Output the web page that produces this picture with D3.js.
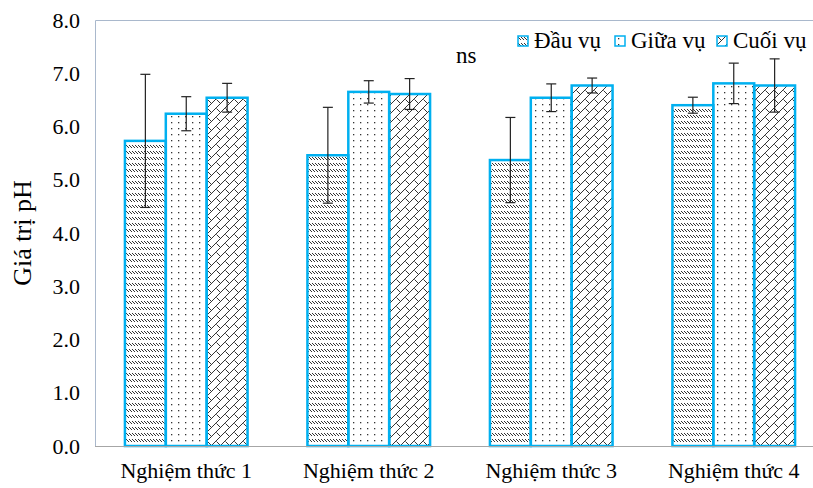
<!DOCTYPE html>
<html>
<head>
<meta charset="utf-8">
<script src="https://cdn.jsdelivr.net/npm/d3@7"></script>
<style>
  body { margin: 0; background: #fff; }
  text { font-family: "Liberation Serif", "Times New Roman", serif; fill: #000; }
</style>
</head>
<body>
<script>
// data
let groups = ["Nghiệm thức 1", "Nghiệm thức 2", "Nghiệm thức 3", "Nghiệm thức 4"];
let seasons = ["Đầu vụ", "Giữa vụ", "Cuối vụ"];
let dauVu   = [5.73, 5.46, 5.37, 6.40];
let giuaVu  = [6.24, 6.65, 6.54, 6.81];
let cuoiVu  = [6.54, 6.61, 6.77, 6.77];
let dauErr  = [1.25, 0.90, 0.80, 0.15];
let giuaErr = [0.32, 0.21, 0.26, 0.38];
let cuoiErr = [0.27, 0.29, 0.14, 0.50];
let yTicks  = [0, 1, 2, 3, 4, 5, 6, 7, 8];

let W = 813, H = 488;
let plotLeft = 95, plotTop = 20, plotBottom = 446;

let svg = d3.select("body").append("svg")
            .attr("width", W)
            .attr("height", H);

// fill patterns
let defs = svg.append("defs");
let p1 = defs.append("pattern").attr("id", "pDau")
             .attr("patternUnits", "userSpaceOnUse")
             .attr("width", 3).attr("height", 6);
p1.append("path").attr("d", "M0,1 L3,4").attr("stroke", "#333").attr("stroke-width", 1);

let p2 = defs.append("pattern").attr("id", "pGiua")
             .attr("patternUnits", "userSpaceOnUse")
             .attr("width", 7).attr("height", 6);
p2.append("rect").attr("x", 3).attr("y", 2).attr("width", 1.3).attr("height", 1.3).attr("fill", "#333");

let p3 = defs.append("pattern").attr("id", "pCuoi")
             .attr("patternUnits", "userSpaceOnUse")
             .attr("width", 9).attr("height", 9);
p3.append("path")
  .attr("d", "M-1,10 L10,-1 M-1,1 L1,-1 M8,10 L10,8 M0.5,0.5 L4,4")
  .attr("stroke", "#333").attr("stroke-width", 1).attr("fill", "none");

let fills = ["url(#pDau)", "url(#pGiua)", "url(#pCuoi)"];

let x = d3.scaleBand().domain(groups).range([plotLeft, plotLeft + 730])
          .paddingInner(0.328).paddingOuter(0.164);
let xs = d3.scaleBand().domain(seasons).range([0, x.bandwidth()]);
let y = d3.scaleLinear().domain([0, 8]).range([plotBottom, plotTop]);

// frame
svg.append("path")
   .attr("d", `M${W},${plotTop + 0.5} H${plotLeft + 0.5} V${plotBottom}`)
   .attr("fill", "none").attr("stroke", "#a9b8cc").attr("stroke-width", 1);

// y axis labels
let yAxis = svg.append("g").attr("transform", `translate(${plotLeft},0)`)
               .call(d3.axisLeft(y).tickValues(yTicks).tickFormat(d3.format(".1f")).tickSize(0).tickPadding(15));
yAxis.select(".domain").remove();
yAxis.selectAll("text").attr("font-size", 22).attr("font-family", "Liberation Serif").attr("fill", "#000");

let rows = groups.map((g, i) => [
  { g: g, s: seasons[0], v: dauVu[i], e: dauErr[i], k: 0 },
  { g: g, s: seasons[1], v: giuaVu[i], e: giuaErr[i], k: 1 },
  { g: g, s: seasons[2], v: cuoiVu[i], e: cuoiErr[i], k: 2 }
]).flat();

svg.selectAll("rect.bar")
   .data(rows)
   .enter()
   .append("rect")
   .attr("class", "bar")
   .attr("x", d => x(d.g) + xs(d.s))
   .attr("y", d => y(d.v))
   .attr("width", xs.bandwidth())
   .attr("height", d => plotBottom - y(d.v))
   .attr("fill", d => fills[d.k])
   .attr("stroke", "#00b0f0")
   .attr("stroke-width", 2.5);

// x axis line
svg.append("line")
   .attr("x1", plotLeft).attr("x2", W)
   .attr("y1", plotBottom + 0.5).attr("y2", plotBottom + 0.5)
   .attr("stroke", "#a6a6a6").attr("stroke-width", 1.2);

// error bars
let eb = svg.selectAll("g.err").data(rows).enter().append("g")
            .attr("transform", d => `translate(${x(d.g) + xs(d.s) + xs.bandwidth() / 2},0)`)
            .attr("stroke", "#222").attr("stroke-width", 1.2);
eb.append("line").attr("y1", d => y(d.v + d.e)).attr("y2", d => y(d.v - d.e));
eb.append("line").attr("x1", -5).attr("x2", 5).attr("y1", d => y(d.v + d.e)).attr("y2", d => y(d.v + d.e));
eb.append("line").attr("x1", -5).attr("x2", 5).attr("y1", d => y(d.v - d.e)).attr("y2", d => y(d.v - d.e));

// category labels
svg.selectAll("text.cat")
   .data(groups)
   .enter()
   .append("text")
   .attr("class", "cat")
   .attr("x", d => x(d) + x.bandwidth() / 2)
   .attr("y", 478)
   .attr("text-anchor", "middle")
   .attr("font-size", 22)
   .text(d => d);

// y title
svg.append("text")
   .attr("transform", `translate(31,${(plotTop + plotBottom) / 2}) rotate(-90)`)
   .attr("text-anchor", "middle")
   .attr("font-size", 26)
   .text("Giá trị pH");

// ns
svg.append("text").attr("x", 456).attr("y", 63).attr("font-size", 23).text("ns");

// legend
let legX = [518, 615, 717];
let leg = svg.selectAll("g.leg").data(seasons).enter().append("g")
             .attr("transform", (d, i) => `translate(${legX[i]},36)`);
leg.append("rect").attr("width", 10).attr("height", 10)
   .attr("fill", (d, i) => fills[i]).attr("stroke", "#00b0f0").attr("stroke-width", 1.5);
leg.append("text").attr("x", 16).attr("y", 12).attr("font-size", 23).text(d => d);
</script>
</body>
</html>
